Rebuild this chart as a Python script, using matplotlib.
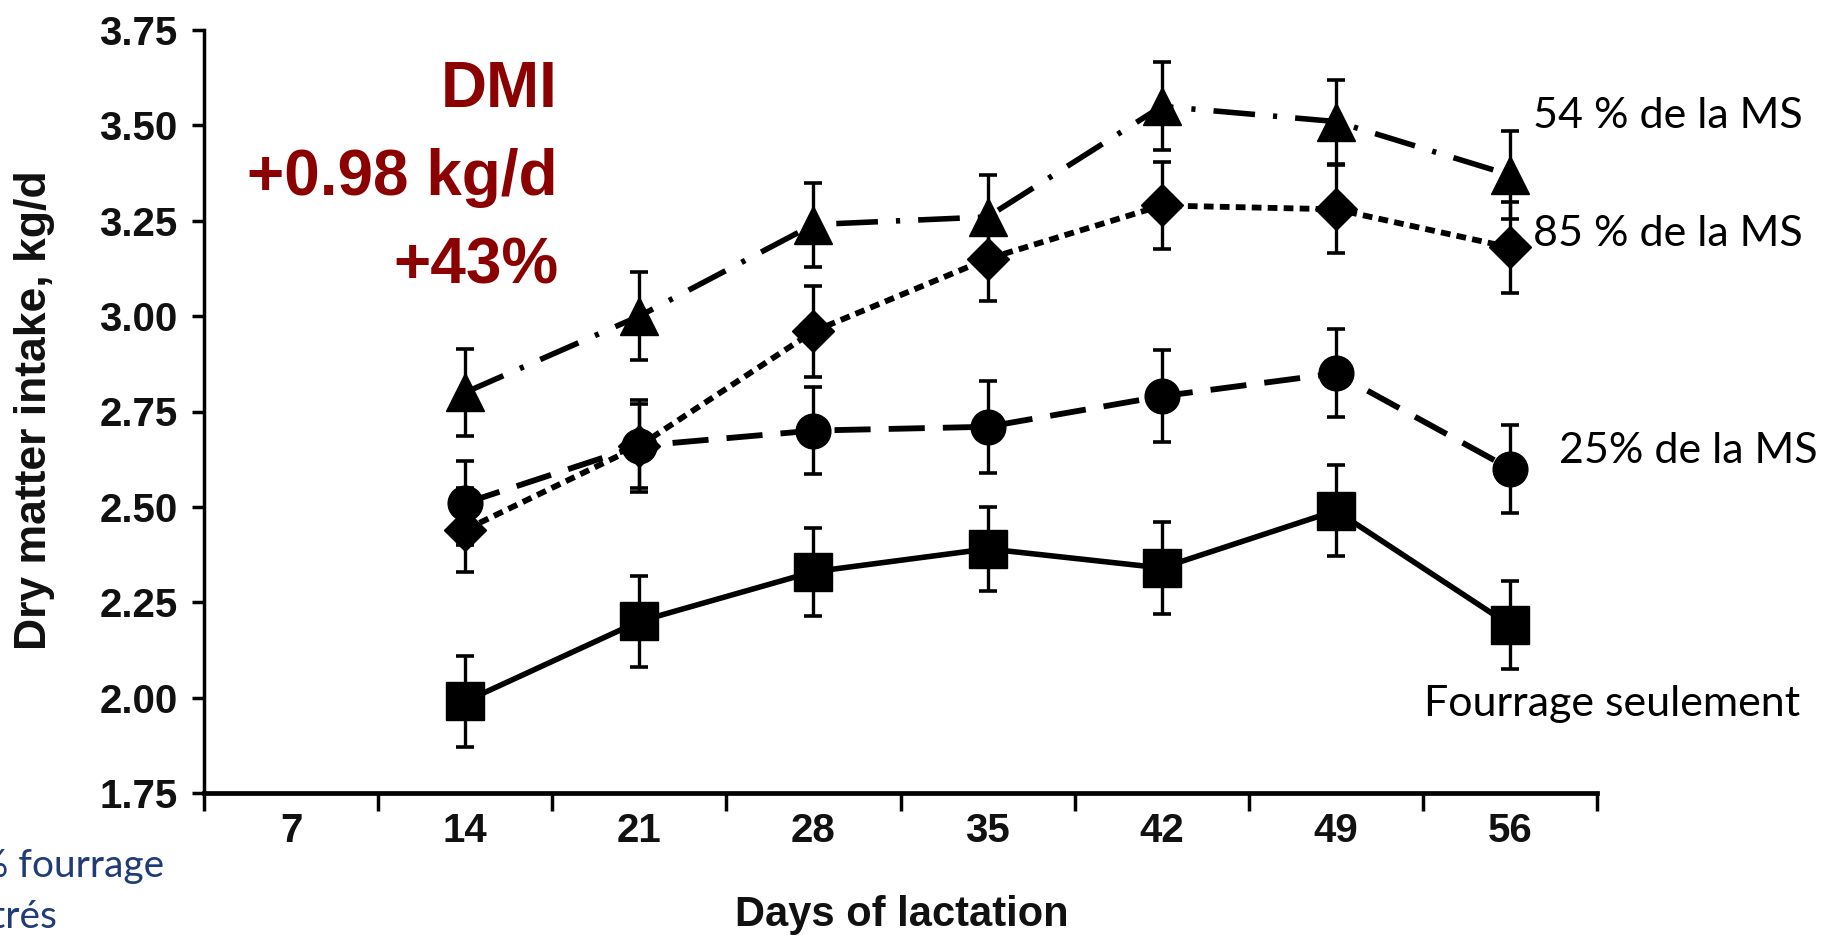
import matplotlib
matplotlib.use('Agg')
import matplotlib.pyplot as plt
from matplotlib.ticker import FixedLocator, FixedFormatter, NullFormatter

# ---------------- data ----------------
days = [14, 21, 28, 35, 42, 49, 56]

conc54 = [2.80, 3.00, 3.24, 3.26, 3.55, 3.51, 3.37]
conc54_se = [0.115, 0.115, 0.11, 0.11, 0.115, 0.11, 0.115]

conc85 = [2.44, 2.66, 2.96, 3.15, 3.29, 3.28, 3.18]
conc85_se = [0.11, 0.11, 0.12, 0.11, 0.115, 0.115, 0.12]

conc25 = [2.51, 2.66, 2.70, 2.71, 2.79, 2.85, 2.60]
conc25_se = [0.11, 0.12, 0.115, 0.12, 0.12, 0.115, 0.115]

forage = [1.99, 2.20, 2.33, 2.39, 2.34, 2.49, 2.19]
forage_se = [0.12, 0.12, 0.115, 0.11, 0.12, 0.12, 0.115]

x_tick_labels = ['7', '14', '21', '28', '35', '42', '49', '56']
x_label_pos = [7, 14, 21, 28, 35, 42, 49, 56]
y_ticks = [1.75, 2.00, 2.25, 2.50, 2.75, 3.00, 3.25, 3.50, 3.75]

series_labels = ['54 % de la MS', '85 % de la MS', '25% de la MS', 'Fourrage seulement']
dmi_lines = ['DMI', '+0.98 kg/d', '+43%']
side_lines = ['50% fourrage', 'concentrés']

# ---------------- figure ----------------
plt.rcParams['lines.scale_dashes'] = False
W, H = 1835, 940
fig = plt.figure(figsize=(W / 100, H / 100), dpi=100)
L, R, T, B = 204, 1597, 30, 793
ax = fig.add_axes([L / W, (H - B) / H, (R - L) / W, (B - T) / H])

axis_font = ['Liberation Sans', 'DejaVu Sans']
label_font = ['Liberation Sans', 'DejaVu Sans']
note_font = ['Lato', 'DejaVu Sans']

eb_kw = dict(fmt='none', ecolor='black', elinewidth=2.4, capsize=6.5, capthick=2.6, zorder=2)

ax.errorbar(days, conc54, yerr=conc54_se, **eb_kw)
ax.errorbar(days, conc85, yerr=conc85_se, **eb_kw)
ax.errorbar(days, conc25, yerr=conc25_se, **eb_kw)
ax.errorbar(days, forage, yerr=forage_se, **eb_kw)

ax.plot(days, conc54, color='black', lw=4, dashes=(30, 13, 3, 13),
        marker='^', markersize=28, zorder=3)
ax.plot(days, conc85, color='black', lw=4.2, dashes=(7, 4.5),
        marker='D', markersize=21, zorder=3)
ax.plot(days, conc25, color='black', lw=4.2, dashes=(26, 13),
        marker='o', markersize=25, zorder=3)
ax.plot(days, forage, color='black', lw=4, linestyle='-',
        marker='s', markersize=27, zorder=3)

ax.set_xlim(3.5, 59.5)
ax.set_ylim(1.75, 3.75)

# x ticks between labels, labels centered on weeks
ax.xaxis.set_major_locator(FixedLocator([3.5 + 7 * k for k in range(9)]))
ax.xaxis.set_major_formatter(NullFormatter())
ax.xaxis.set_minor_locator(FixedLocator(x_label_pos))
ax.xaxis.set_minor_formatter(FixedFormatter(x_tick_labels))
ax.tick_params(axis='x', which='major', direction='out', length=13, width=2.5)
ax.tick_params(axis='x', which='minor', length=0, pad=14)

ax.yaxis.set_major_locator(FixedLocator(y_ticks))
ax.set_yticklabels([f'{v:.2f}' for v in y_ticks])
ax.tick_params(axis='y', direction='out', length=9, width=2.5, pad=10)

for lab in ax.get_xticklabels(which='minor') + ax.get_yticklabels():
    lab.set_fontfamily(axis_font)
    lab.set_fontsize(29)
    lab.set_fontweight('bold')
    lab.set_color('#111111')

ax.spines['top'].set_visible(False)
ax.spines['right'].set_visible(False)
ax.spines['left'].set_linewidth(2.5)
ax.spines['bottom'].set_linewidth(3.4)

ax.set_xlabel('Days of lactation', fontsize=30, fontweight='bold', family=axis_font,
              color='#111111')
ax.set_ylabel('Dry matter intake, kg/d', fontsize=32, fontweight='bold', family=axis_font,
              color='#111111')
ax.yaxis.set_label_coords(35 / W, 1 - 410 / H, transform=fig.transFigure)
ax.xaxis.set_label_coords(902 / W, 1 - 915 / H, transform=fig.transFigure)
ax.xaxis.label.set_va('center')
ax.yaxis.label.set_va('center')

# ---------------- annotations ----------------
def fx(px):
    return px / W

def fy(py):
    return 1 - py / H

red = '#8b0000'
for txt, base in zip(dmi_lines, [107, 195, 284]):
    fig.text(fx(558), fy(base), txt, ha='right', va='baseline', color=red,
             fontsize=46, fontweight='bold', family=label_font)

for txt, (xl, base) in zip(series_labels, [(1533, 128), (1533, 246), (1559, 463), (1424, 716)]):
    fig.text(fx(xl), fy(base), txt, ha='left', va='baseline', color='black',
             fontsize=31, family=note_font)

navy = '#1f3c78'
fig.text(fx(164), fy(877), side_lines[0], ha='right', va='baseline', color=navy,
         fontsize=28, family=note_font)
fig.text(fx(57), fy(928), side_lines[1], ha='right', va='baseline', color=navy,
         fontsize=28, family=note_font)

fig.savefig('out.png', dpi=100)
